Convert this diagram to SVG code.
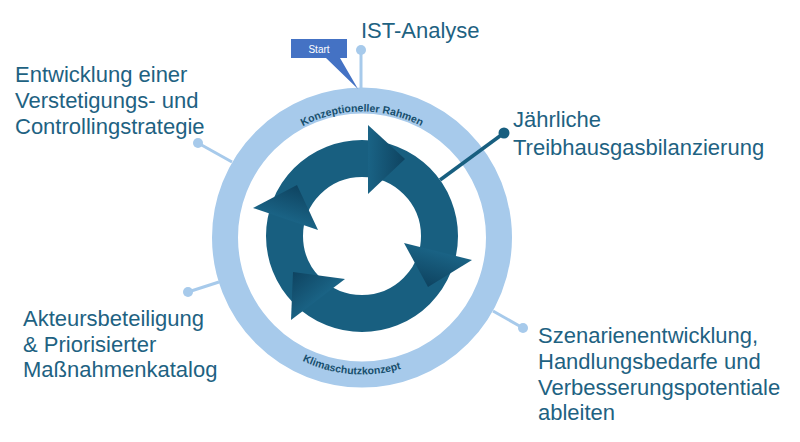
<svg xmlns="http://www.w3.org/2000/svg" width="800" height="442" viewBox="0 0 800 442">
<defs>
<style>
.lbl{font-family:"Liberation Sans",Arial,sans-serif;font-size:22px;fill:#1e6282}
.arc{font-family:"Liberation Sans",Arial,sans-serif;font-size:10.5px;font-weight:bold;fill:#174f6d}
.lc{stroke:#a7caeb;stroke-width:3;fill:none}
.ld{fill:#a7caeb}
.dc{stroke:#185f80;stroke-width:3.5;fill:none}
.dd{fill:#185f80}
</style>
<linearGradient id="g1" gradientUnits="userSpaceOnUse" x1="368" y1="159" x2="405" y2="160">
<stop offset="0" stop-color="#1a6385"/><stop offset="1" stop-color="#0e4360"/>
</linearGradient>
<linearGradient id="g2" gradientUnits="userSpaceOnUse" x1="438" y1="251" x2="428" y2="287">
<stop offset="0" stop-color="#1a6385"/><stop offset="1" stop-color="#0e4360"/>
</linearGradient>
<linearGradient id="g3" gradientUnits="userSpaceOnUse" x1="318" y1="300" x2="293" y2="272">
<stop offset="0" stop-color="#1a6385"/><stop offset="1" stop-color="#0e4360"/>
</linearGradient>
<linearGradient id="g4" gradientUnits="userSpaceOnUse" x1="286" y1="219" x2="297" y2="185">
<stop offset="0" stop-color="#1a6385"/><stop offset="1" stop-color="#0e4360"/>
</linearGradient>
<path id="topArc" d="M236,237.5 A126,126 0 0 1 488,237.5"/>
<path id="botArc" d="M225,237.5 A137,137 0 0 0 499,237.5"/>
</defs>
<rect width="800" height="442" fill="#ffffff"/>

<g id="outer-ring">
<circle cx="362" cy="237.5" r="137" fill="none" stroke="#a7caeb" stroke-width="26"/>
<text class="arc"><textPath href="#topArc" startOffset="50%" text-anchor="middle">Konzeptioneller Rahmen</textPath></text>
<text class="arc"><textPath href="#botArc" startOffset="204" text-anchor="middle">Klimaschutzkonzept</textPath></text>
</g>

<g id="cycle">
<circle cx="362" cy="236" r="77.5" fill="none" stroke="#185f80" stroke-width="37"/>
<polygon points="368,125 405,159 368,194" fill="url(#g1)"/>
<polygon points="404,243 472,260 428,287" fill="url(#g2)"/>
<polygon points="345,279 291,320 293,272" fill="url(#g3)"/>
<polygon points="253,208 318,230 297,185" fill="url(#g4)"/>
</g>

<g id="connectors">
<line class="lc" x1="361" y1="88" x2="361" y2="50"/>
<circle class="ld" cx="361" cy="50" r="5"/>
<line class="lc" x1="232" y1="162" x2="198" y2="143"/>
<circle class="ld" cx="198" cy="143" r="5"/>
<line class="lc" x1="219" y1="282" x2="188" y2="292"/>
<circle class="ld" cx="188" cy="292" r="5"/>
<line class="lc" x1="493" y1="311" x2="523" y2="328"/>
<circle class="ld" cx="523" cy="328" r="5"/>
<line class="dc" x1="440" y1="180" x2="504" y2="133"/>
<circle class="dd" cx="504" cy="133" r="5.5"/>
</g>

<g id="start">
<path d="M291,39 H347 V58 H340 L358,89 L326,58 H291 Z" fill="#4472c4"/>
<text x="319" y="52.5" font-family="Liberation Sans, Arial, sans-serif" font-size="10px" fill="#ffffff" text-anchor="middle">Start</text>
</g>

<g id="ist-analyse">
<text class="lbl" x="361" y="38">IST-Analyse</text>
</g>

<g id="treibhausgas">
<text class="lbl" x="513" y="127">Jährliche</text>
<text class="lbl" x="513" y="155">Treibhausgasbilanzierung</text>
</g>

<g id="szenarien">
<text class="lbl" x="538" y="343">Szenarienentwicklung,</text>
<text class="lbl" x="538" y="369">Handlungsbedarfe und</text>
<text class="lbl" x="538" y="394.5">Verbesserungspotentiale</text>
<text class="lbl" x="538" y="420">ableiten</text>
</g>

<g id="akteure">
<text class="lbl" x="23" y="326">Akteursbeteiligung</text>
<text class="lbl" x="23" y="351.5">&amp; Priorisierter</text>
<text class="lbl" x="23" y="377">Maßnahmenkatalog</text>
</g>

<g id="verstetigung">
<text class="lbl" x="15" y="82">Entwicklung einer</text>
<text class="lbl" x="15" y="108">Verstetigungs- und</text>
<text class="lbl" x="15" y="133.5">Controllingstrategie</text>
</g>
</svg>
